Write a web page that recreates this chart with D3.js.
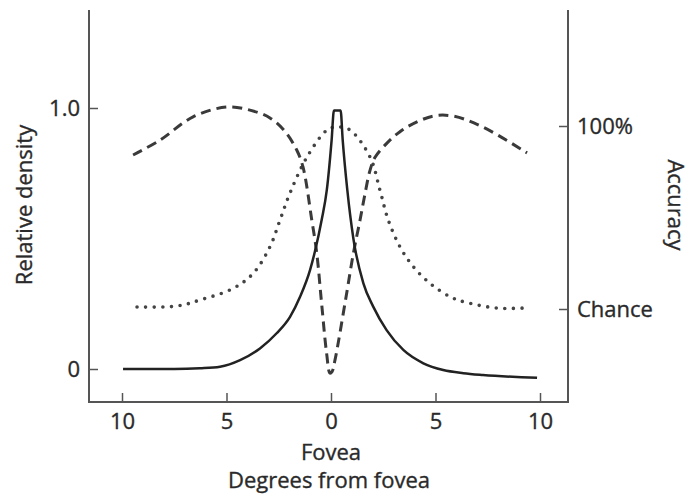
<!DOCTYPE html>
<html><head><meta charset="utf-8">
<script src="https://cdn.jsdelivr.net/npm/d3@7"></script>
<style>
html,body{margin:0;padding:0;background:#fff;}
svg{display:block;}
text{font-family:"Open Sans","Noto Sans",sans-serif;fill:#2a2a2a;stroke:#2a2a2a;stroke-width:0.35px;}
</style></head>
<body>
<svg id="chart" width="692" height="495"></svg>
<script>
// Degrees from fovea (negative = left side), tick labels shown as absolute values
const xTicks = [-10, -5, 0, 5, 10];
const densityTicks = [0, 1];
const densityTickLabels = ["0", "1.0"];
const accuracyTicks = [0, 1];
const accuracyTickLabels = ["Chance", "100%"];

// Cone density (solid line), relative density
const coneDeg = [-9.95,-7.5,-6.27,-5.31,-4.35,-3.40,-2.60,-1.96,-1.48,-1.0,-0.77,-0.45,-0.2,0.03,0.14,0.46,0.56,0.78,1.07,1.55,2.02,2.66,3.46,4.42,5.37,6.33,7.27,9.86];
const coneVal = [0,0,0.003,0.009,0.034,0.079,0.137,0.20,0.277,0.38,0.45,0.57,0.686,0.877,0.99,0.99,0.877,0.686,0.50,0.328,0.239,0.149,0.073,0.022,-0.004,-0.016,-0.023,-0.034];

// Rod density (dashed line), relative density
const rodDeg = [-9.47,-8.18,-6.6,-4.98,-3.88,-2.92,-2.2,-1.64,-1.34,-0.92,-0.68,-0.45,-0.21,-0.05,0.05,0.19,0.67,1.07,1.39,1.6,1.87,2.1,2.82,3.3,3.7,4.88,5.84,7.27,9.38];
const rodVal = [0.82,0.877,0.966,1.004,0.992,0.962,0.91,0.839,0.774,0.571,0.443,0.252,0.06,-0.016,-0.01,0.034,0.252,0.443,0.571,0.66,0.762,0.81,0.877,0.909,0.93,0.969,0.969,0.927,0.828];

// Accuracy (dotted line): 0 = chance, 1 = 100%
const accDeg = [-9.28,-7.37,-6.27,-4.67,-3.72,-2.92,-2.44,-1.96,-1.15,-0.19,0.29,0.91,1.87,2.34,2.74,3.3,3.94,4.74,5.69,6.33,7.94,9.19];
const accVal = [0.011,0.016,0.049,0.113,0.195,0.34,0.486,0.634,0.83,0.978,0.995,0.978,0.83,0.65,0.486,0.34,0.231,0.14,0.067,0.04,0.005,0.005];

const svg = d3.select("#chart");
const axisLeftX = 89, axisRightX = 568, axisTop = 10, axisBottom = 402;
const fs = 22;

const x = d3.scaleLinear().domain([-10, 10]).range([122, 540]);
const yD = d3.scaleLinear().domain([0, 1]).range([369, 108]);
const yA = d3.scaleLinear().domain([0, 1]).range([309, 126]);

const axisColor = "#555";
// frame lines
svg.append("line").attr("x1", axisLeftX).attr("x2", axisLeftX).attr("y1", axisTop).attr("y2", axisBottom)
  .attr("stroke", axisColor).attr("stroke-width", 2);
svg.append("line").attr("x1", axisRightX).attr("x2", axisRightX).attr("y1", axisTop).attr("y2", axisBottom)
  .attr("stroke", axisColor).attr("stroke-width", 2);
svg.append("line").attr("x1", axisLeftX - 1).attr("x2", axisRightX + 1).attr("y1", axisBottom).attr("y2", axisBottom)
  .attr("stroke", axisColor).attr("stroke-width", 2);

// bottom axis
const gx = svg.append("g").attr("transform", `translate(0,${axisBottom})`)
  .call(d3.axisBottom(x).tickValues(xTicks).tickFormat(d => Math.abs(d)).tickSize(-9).tickPadding(11));
gx.select(".domain").remove();
gx.selectAll(".tick line").attr("stroke", axisColor).attr("stroke-width", 1.5);
gx.selectAll(".tick text").attr("font-size", fs).attr("fill", "#2a2a2a").attr("font-family", "Open Sans");

// left axis
const gl = svg.append("g").attr("transform", `translate(${axisLeftX},0)`)
  .call(d3.axisLeft(yD).tickValues(densityTicks).tickFormat((d, i) => densityTickLabels[i]).tickSize(-9).tickPadding(9));
gl.select(".domain").remove();
gl.selectAll(".tick line").attr("stroke", axisColor).attr("stroke-width", 1.5);
gl.selectAll(".tick text").attr("font-size", fs).attr("fill", "#2a2a2a").attr("font-family", "Open Sans");

// right axis
const gr = svg.append("g").attr("transform", `translate(${axisRightX},0)`)
  .call(d3.axisRight(yA).tickValues(accuracyTicks).tickFormat((d, i) => accuracyTickLabels[i]).tickSize(-9).tickPadding(9));
gr.select(".domain").remove();
gr.selectAll(".tick line").attr("stroke", axisColor).attr("stroke-width", 1.5);
gr.selectAll(".tick text").attr("font-size", fs).attr("fill", "#2a2a2a").attr("font-family", "Open Sans");

// curves
const zip = (a, b) => a.map((d, i) => [d, b[i]]);
const lineDs = d3.line().x(d => x(d[0])).y(d => yD(d[1])).curve(d3.curveCatmullRom.alpha(0.5));
const lineDm = d3.line().x(d => x(d[0])).y(d => yD(d[1])).curve(d3.curveMonotoneX);
const lineA = d3.line().x(d => x(d[0])).y(d => yA(d[1])).curve(d3.curveCatmullRom.alpha(0.5));

svg.append("path").attr("d", lineA(zip(accDeg, accVal)))
  .attr("fill", "none").attr("stroke", "#444").attr("stroke-width", 3.6)
  .attr("stroke-linecap", "round").attr("stroke-dasharray", "0 8.6");

svg.append("path").attr("d", lineDs(zip(rodDeg, rodVal)))
  .attr("fill", "none").attr("stroke", "#3a3a3a").attr("stroke-width", 3)
  .attr("stroke-dasharray", "10 6");

svg.append("path").attr("d", lineDm(zip(coneDeg, coneVal)))
  .attr("fill", "none").attr("stroke", "#222").attr("stroke-width", 2.5)
  .attr("stroke-linejoin", "round");

// axis titles
svg.append("text").attr("x", 331).attr("y", 460).attr("text-anchor", "middle")
  .attr("font-size", fs).text("Fovea");
svg.append("text").attr("x", 329).attr("y", 488).attr("text-anchor", "middle")
  .attr("font-size", fs).text("Degrees from fovea");
svg.append("text").attr("transform", "translate(32,205) rotate(-90)").attr("text-anchor", "middle")
  .attr("font-size", fs).text("Relative density");
svg.append("text").attr("transform", "translate(668,205) rotate(90)").attr("text-anchor", "middle")
  .attr("font-size", fs).text("Accuracy");
</script>
</body></html>
